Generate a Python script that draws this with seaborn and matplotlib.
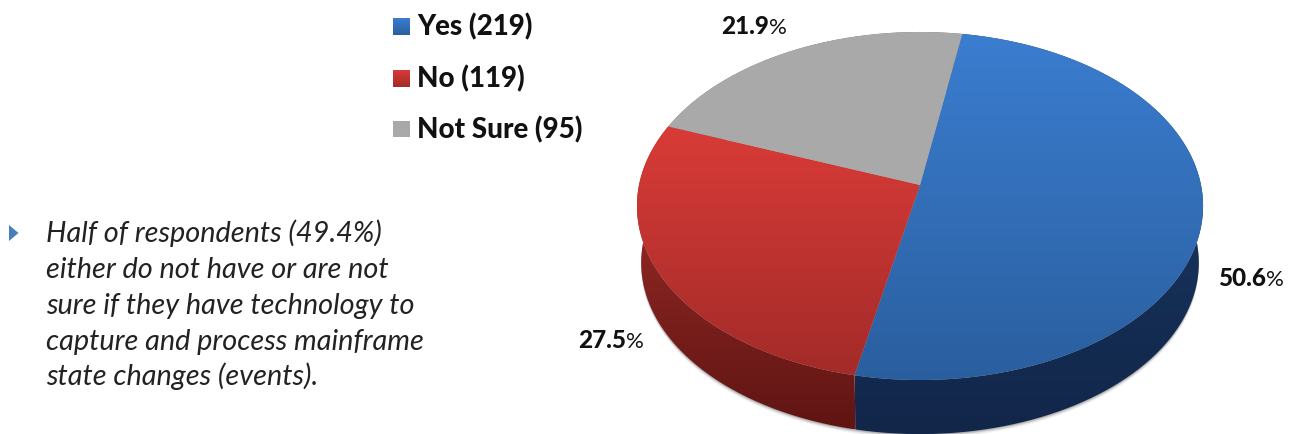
import numpy as np
import matplotlib.pyplot as plt
import seaborn as sns
from matplotlib.patches import PathPatch, Polygon
from matplotlib.path import Path

# values, clockwise from the top
categories = ['Yes (219)', 'No (119)', 'Not Sure (95)']
shares = [50.6, 27.5, 21.9]
share_labels = ['50.6', '27.5', '21.9']
note_lines = [
    'Half of respondents (49.4%)',
    'either do not have or are not',
    'sure if they have technology to',
    'capture and process mainframe',
    'state changes (events).',
]

top_colors = [('#3b7dd0', '#2a5f9f'), ('#d93b37', '#a32b29'), ('#a9a9a9', '#a9a9a9')]
side_colors = [('#1b3d68', '#12264a'), ('#a8302c', '#5f1513'), ('#777777', '#777777')]
swatch_colors = [('#3b7dd0', '#2a5f9f'), ('#d93b37', '#a32b29'), ('#a9a9a9', '#a9a9a9')]

sns.set_theme(style='white')
plt.rcParams['font.family'] = ['Lato', 'DejaVu Sans']

fig = plt.figure(figsize=(13.01, 4.35), dpi=100)
ax = fig.add_axes([0, 0, 1, 1])


def project(theta, scale=1.0, apex_y=186.0):
    # perspective view of the round pie, theta in degrees clockwise from north
    k = 0.1207
    t = np.radians(theta)
    u, v = np.sin(t), np.cos(t)
    w = 1 + k * v
    return 920 + scale * 281 * u / w, apex_y - scale * 171.5 * v / w


def gradient_fill(verts, colors, vertical=True):
    xs, ys = zip(*verts)
    cmap = sns.blend_palette(colors, as_cmap=True)
    ramp = np.linspace(0, 1, 128)
    ramp = ramp[:, None] if vertical else ramp[None, :]
    im = ax.imshow(ramp, cmap=cmap, vmin=0, vmax=1, aspect='auto', zorder=3,
                   extent=(min(xs), max(xs), max(ys), min(ys)))
    patch = PathPatch(Path(list(verts) + [verts[0]]), transform=ax.transData,
                      facecolor='none', edgecolor='none')
    ax.add_patch(patch)
    im.set_clip_path(patch)
    return im


start = 9.7
edges = start + np.concatenate([[0], np.cumsum(shares)]) * 3.6

# soft shadow under the pie
full = np.linspace(0, 360, 361)
for off, alpha in [(4.0, 0.06), (3.0, 0.1), (2.0, 0.16), (1.0, 0.25)]:
    sx, sy = project(full, 0.985, 243 + off)
    ax.add_patch(Polygon(np.column_stack([sx, sy]), closed=True, facecolor='#555555',
                         edgecolor='none', alpha=alpha, zorder=2))

# side wall of each slice
for i in range(3):
    arc = np.linspace(edges[i], edges[i + 1], 200)
    x1, y1 = project(arc)
    x2, y2 = project(arc[::-1], 0.985, 243)
    verts = list(zip(np.r_[x1, x2], np.r_[y1, y2]))
    gradient_fill(verts, side_colors[i])

# top face of each slice
for i in range(3):
    arc = np.linspace(edges[i], edges[i + 1], 200)
    x1, y1 = project(arc)
    verts = list(zip(np.r_[920, x1], np.r_[186, y1]))
    im = gradient_fill(verts, top_colors[i])
    im.set_zorder(4)


def pct_label(x, y, txt, size=17.5):
    t = ax.text(x, y, txt, fontsize=size, fontweight='black', color='#111111',
                ha='left', va='baseline', zorder=6)
    bb = t.get_window_extent(fig.canvas.get_renderer())
    ax.text(x + bb.width, y, '%', fontsize=size - 1.5, color='#111111',
            ha='left', va='baseline', zorder=6)


pct_label(1218, 286, share_labels[0])
pct_label(578, 348, share_labels[1])
pct_label(721, 34, share_labels[2])

# legend
for i, name in enumerate(categories):
    base = [35.5, 87, 138][i]
    y0 = base - 16.5
    gradient_fill([(393, y0), (410, y0), (410, y0 + 17), (393, y0 + 17)], swatch_colors[i])
    ax.text(417, base, name, fontsize=20, fontweight='black', color='#111111',
            ha='left', va='baseline', zorder=6)

# bullet note
ax.add_patch(Polygon([(9, 226), (18.5, 234), (9, 242)], closed=True,
                     facecolor='#4a7ebb', edgecolor='none', zorder=6))
for line, base in zip(note_lines, [242, 278, 314, 350, 385]):
    ax.text(46, base, line, fontsize=20.8, fontstyle='italic', color='#222222',
            ha='left', va='baseline', zorder=6)

ax.set_xlim(0, 1301)
ax.set_ylim(435, 0)
ax.axis('off')
fig.savefig('out.png', dpi=100)
